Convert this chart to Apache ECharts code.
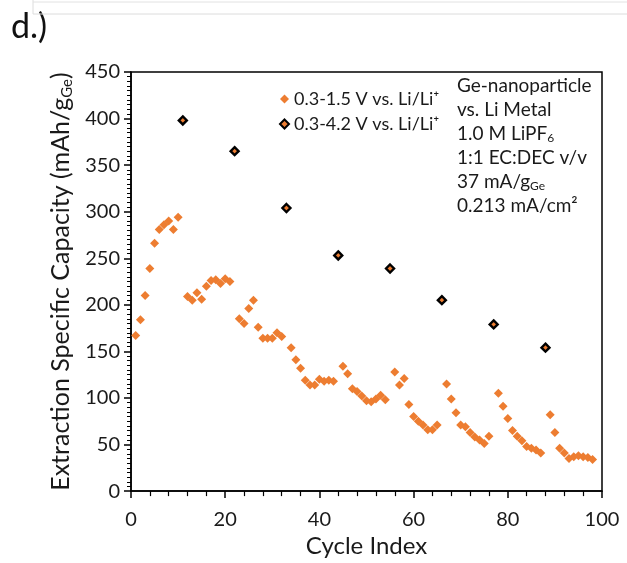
<!DOCTYPE html>
<html><head><meta charset="utf-8">
<script src="https://cdn.jsdelivr.net/npm/echarts@6/dist/echarts.min.js"></script>
<style>html,body{margin:0;padding:0;background:#fff}#c{width:627px;height:563px}</style>
</head><body><div id="c"></div>
<script>
// Data
var orangeCycles = [1,2,3,4,5,6,7,8,9,10,
  12,13,14,15,16,17,18,19,20,21,
  23,24,25,26,27,28,29,30,31,32,
  34,35,36,37,38,39,40,41,42,43,
  45,46,47,48,49,50,51,52,53,54,
  56,57,58,59,60,61,62,63,64,65,
  67,68,69,70,71,72,73,74,75,76,
  78,79,80,81,82,83,84,85,86,87,
  89,90,91,92,93,94,95,96,97,98];
var orangeValues = [167,184,210,239,266,281,286,290,281,294,
  209,205,213,206,220,226,227,223,228,225,
  185,180,196,205,176,164,164,164,170,166,
  154,141,132,119,114,114,120,118,119,118,
  134,126,110,107,102,97,96,99,103,98,
  128,114,121,93,80,75,71,66,66,71,
  115,99,84,71,69,63,58,55,51,59,
  105,91,78,65,59,54,48,46,44,41,
  82,63,46,41,35,37,38,37,36,34];
var blackCycles = [11,22,33,44,55,66,77,88];
var blackValues = [398,365,304,253,239,205,179,154];
var seriesNames = ['0.3-1.5 V vs. Li/Li\u207A', '0.3-4.2 V vs. Li/Li\u207A'];
var noteLines = ['Ge-nanoparticle','vs. Li Metal','{a|1.0 M LiPF}{s|6}','1:1 EC:DEC v/v','{a|37 mA/g}{s|Ge}','0.213 mA/cm\u00B2'];

var FONT = 'Lato';
var ORANGE = '#ED7D31';
var TXT = '#1a1a1a';
function zip(a,b){return a.map(function(v,i){return [v,b[i]];});}

var chart = echarts.init(document.getElementById('c'), null, {renderer:'canvas'});
var graphics = [
  {type:'text', left:11, top:10, style:{text:'d.)', font:'34px '+FONT, fill:'#111'}},
  {type:'polyline', shape:{points:[[33,0],[33,14],[627,14]]}, style:{stroke:'#dcdcdc', lineWidth:1, fill:null}},
  {type:'line', shape:{x1:33,y1:2,x2:627,y2:2}, style:{stroke:'#e2e2e2', lineWidth:1}}
];
var noteTops = [76,100,124,148,172,196];
noteLines.forEach(function(t,i){
  graphics.push({type:'text', left:457, top:noteTops[i], style:{
    text:t, font:'19px '+FONT, fill:TXT,
    rich:{a:{fontSize:19,fontFamily:FONT,fill:TXT}, s:{fontSize:12,fontFamily:FONT,fill:TXT,padding:[9,0,0,0]}}
  }});
});

chart.setOption({
  animation:false,
  backgroundColor:'#fff',
  grid:{left:131, right:25, top:72, bottom:71, show:true, borderColor:'#000', borderWidth:1.5},
  legend:{
    orient:'vertical', left:274, top:85, itemGap:7, itemWidth:9, itemHeight:9,
    textStyle:{fontFamily:FONT, fontSize:18, color:TXT},
    data:seriesNames
  },
  xAxis:{
    type:'value', min:0, max:100, interval:20,
    name:'Cycle Index', nameLocation:'middle', nameGap:42,
    nameTextStyle:{fontFamily:FONT, fontSize:24, color:TXT},
    axisLine:{show:true, lineStyle:{color:'#000', width:1.5}},
    axisTick:{show:true, length:7, lineStyle:{color:'#000', width:1.5}},
    minorTick:{show:true, splitNumber:5, length:5, lineStyle:{color:'#000', width:1.2}},
    axisLabel:{fontFamily:FONT, fontSize:20, color:TXT, margin:18},
    splitLine:{show:false}
  },
  yAxis:{
    type:'value', min:0, max:450, interval:50,
    name:'{a|Extraction Specific Capacity (mAh/g}{s|Ge}{a|)}', nameLocation:'middle', nameGap:52,
    nameTextStyle:{fontFamily:FONT, fontSize:25, color:TXT,
      rich:{a:{fontFamily:FONT,fontSize:25,color:TXT}, s:{fontFamily:FONT,fontSize:15,color:TXT,padding:[12,0,0,0]}}},
    axisLine:{show:true, lineStyle:{color:'#000', width:1.5}},
    axisTick:{show:true, length:7, lineStyle:{color:'#000', width:1.5}},
    minorTick:{show:true, splitNumber:10, length:4, lineStyle:{color:'#000', width:1}},
    axisLabel:{fontFamily:FONT, fontSize:20, color:TXT, margin:11},
    splitLine:{show:false}
  },
  series:[
    {name:seriesNames[0], type:'scatter', symbol:'diamond', symbolSize:[9,9],
     itemStyle:{color:ORANGE, opacity:1}, data:zip(orangeCycles, orangeValues)},
    {name:seriesNames[1], type:'scatter', symbol:'diamond', symbolSize:[8,8],
     itemStyle:{color:ORANGE, borderColor:'#000', borderWidth:2.4, opacity:1}, data:zip(blackCycles, blackValues)}
  ],
  graphic:graphics
});
</script>
</body></html>
